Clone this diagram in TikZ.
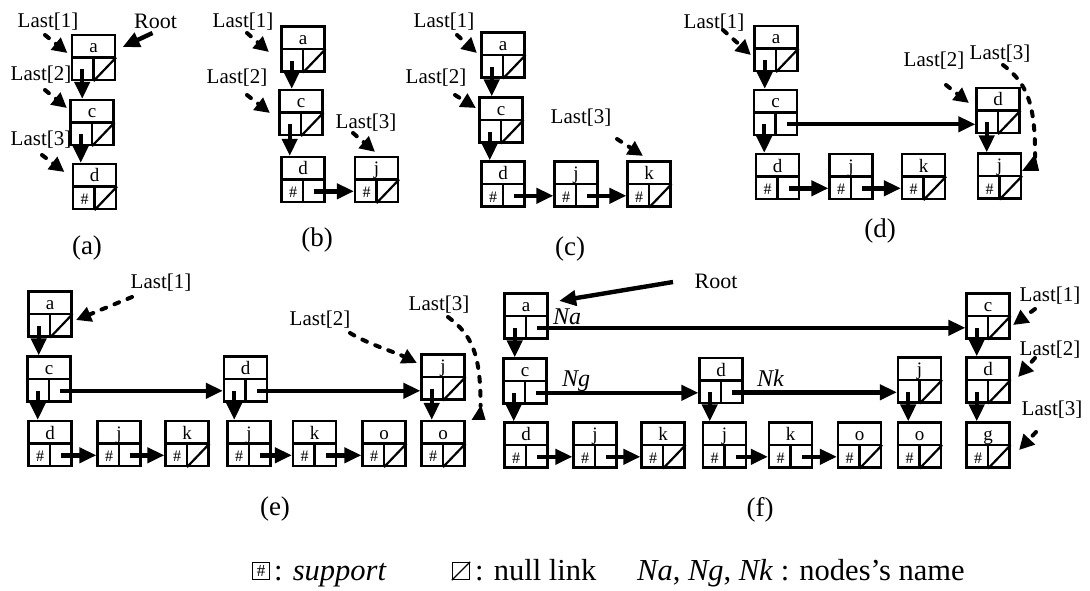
\documentclass[tikz,border=0pt]{standalone}
\usepackage{fontspec}
\setmainfont{Liberation Serif}
\usetikzlibrary{arrows.meta,calc}

\tikzset{
  cellbox/.style={draw, line width=2.2pt, minimum width=43pt, minimum height=45pt, inner sep=0pt},
  cellline/.style={line width=2.2pt},
  lettr/.style={font=\fontsize{19}{19}\selectfont, inner sep=0pt, anchor=base},
  hashmark/.style={font=\fontsize{16}{16}\selectfont, inner sep=0pt},
  link/.style={line width=4.4pt, -{Triangle[length=17pt,width=15pt]}},
  dlink/.style={line width=4pt, line cap=round, dash pattern=on 5pt off 9pt, -{Triangle[length=15pt,width=15pt]}},
  dcurve/.style={line width=4pt, line cap=round, dash pattern=on 5pt off 9pt},
  lastlbl/.style={font=\fontsize{21}{21}\selectfont, inner sep=0pt},
  rootlbl/.style={font=\fontsize{22}{22}\selectfont, inner sep=0pt},
  namelbl/.style={font=\fontsize{24}{24}\selectfont\itshape, inner sep=0pt, anchor=base west},
  caption/.style={font=\fontsize{27}{27}\selectfont, inner sep=0pt},
  legendtxt/.style={font=\fontsize{30.5}{30.5}\selectfont, inner sep=0pt, anchor=base west},
  legendicon/.style={draw, line width=1.3pt, minimum width=17pt, minimum height=17pt, inner sep=0pt},
}

% a list cell: name, x, y, item letter
\newcommand\lcell[4]{%
  \node[cellbox] (#1) at (#2,#3) {};
  \draw[cellline] (#1.west) -- (#1.east) (#1.center) -- (#1.south);
  \node[lettr] (#1-t) at ($(#1.center)+(0,-4.5)$) {#4};
  \coordinate (#1-l) at ($(#1.west)!.5!(#1.south)$);
  \coordinate (#1-r) at ($(#1.south)!.5!(#1.east)$);
}
\newcommand\supmark[1]{\node[hashmark] (#1-s) at ($(#1-l)+(1.5,1)$) {\#};}
\newcommand\nullmark[1]{\draw[cellline] (#1.south) -- (#1.east);}
\newcommand\vlink[2]{\draw[link] (#1-l) -- (#1-l |- #2.north);}
\newcommand\hlink[2]{\draw[link] (#1-r) -- (#1-r -| #2.west);}

\begin{document}
\begin{tikzpicture}[x=1pt,y=-1pt]
\useasboundingbox (0,0) rectangle (1090,591);

% ---------- (a)
\lcell{aa}{93.5}{57.5}{a} \nullmark{aa}
\lcell{ac}{92}{122.5}{c} \nullmark{ac}
\lcell{ad}{94.5}{186.5}{d} \supmark{ad} \nullmark{ad}
\vlink{aa}{ac} \vlink{ac}{ad}
\node[lastlbl] (aL1) at (48,22) {Last[1]};
\node[rootlbl] (aR) at (155.5,21) {Root};
\node[lastlbl] (aL2) at (41,75) {Last[2]};
\node[lastlbl] (aL3) at (41,140) {Last[3]};
\draw[dlink] ($(aL1)+(-3,13)$) -- ($(aa.west)+(-3.5,-4.5)$);
\draw[link] ($(aR)+(-3,12)$) -- ($(aa.east)+(6.5,-10.5)$);
\draw[dlink] ($(aL2)+(4,15)$) -- ($(ac.west)+(-2.5,-14.5)$);
\draw[dlink] ($(aL3)+(1,15)$) -- ($(ad.west)+(-7.5,-14.5)$);
\node[caption] (acap) at (87,248) {(a)};

% ---------- (b)
\lcell{ba}{303}{49}{a} \nullmark{ba}
\lcell{bc}{301}{112.5}{c} \nullmark{bc}
\lcell{bd}{303}{179.5}{d} \supmark{bd}
\lcell{bj}{376.5}{179.5}{j} \supmark{bj} \nullmark{bj}
\vlink{ba}{bc} \vlink{bc}{bd} \hlink{bd}{bj}
\node[lastlbl] (bL1) at (243,22) {Last[1]};
\node[lastlbl] (bL2) at (237,78) {Last[2]};
\node[lastlbl] (bL3) at (366,123) {Last[3]};
\draw[dlink] ($(bL1)+(4,11)$) -- ($(ba.west)+(-11.5,3)$);
\draw[dlink] ($(bL2)+(10,17)$) -- ($(bc.west)+(-8.5,0.5)$);
\draw[dlink] ($(bL3)+(-13,10)$) -- ($(bj.north)+(-1.5,-4)$);
\node[caption] (bcap) at (317,240) {(b)};

% ---------- (c)
\lcell{ca}{503}{55}{a} \nullmark{ca}
\lcell{cc}{501}{120}{c} \nullmark{cc}
\lcell{cd}{503}{184}{d} \supmark{cd}
\lcell{cj}{576}{184}{j} \supmark{cj}
\lcell{ck}{649}{184}{k} \supmark{ck} \nullmark{ck}
\vlink{ca}{cc} \vlink{cc}{cd} \hlink{cd}{cj} \hlink{cj}{ck}
\node[lastlbl] (cL1) at (444,22) {Last[1]};
\node[lastlbl] (cL2) at (436,78) {Last[2]};
\node[lastlbl] (cL3) at (581,118) {Last[3]};
\draw[dlink] ($(cL1)+(13,13)$) -- ($(ca.west)+(-3.5,-2)$);
\draw[dlink] ($(cL2)+(19,17)$) -- ($(cc.west)+(-2.5,-12)$);
\draw[dlink] ($(cL3)+(36,21)$) -- ($(ck.north)+(-6,-4.5)$);
\node[caption] (ccap) at (570,249) {(c)};

% ---------- (d)
\lcell{da}{776}{48.5}{a} \nullmark{da}
\lcell{dc}{775.5}{112.5}{c}
\lcell{dd}{777.5}{176.5}{d} \supmark{dd}
\lcell{dj}{851}{176.5}{j} \supmark{dj}
\lcell{dk}{923.5}{176.5}{k} \supmark{dk} \nullmark{dk}
\lcell{dD}{998}{110.5}{d} \nullmark{dD}
\lcell{dJ}{999.5}{176}{j} \supmark{dJ} \nullmark{dJ}
\vlink{da}{dc} \vlink{dc}{dd} \vlink{dD}{dJ}
\hlink{dc}{dD} \hlink{dd}{dj} \hlink{dj}{dk}
\node[lastlbl] (dL1) at (714,23) {Last[1]};
\node[lastlbl] (dL2) at (934,61) {Last[2]};
\node[lastlbl] (dL3) at (1000,54) {Last[3]};
\draw[dlink] ($(dL1)+(9,7)$) -- ($(da.west)+(-2.5,6.5)$);
\draw[dlink] ($(dL2)+(12,24)$) -- ($(dD.west)+(-6.5,-7.5)$);
\draw[dcurve] ($(dL3)+(3,11)$) .. controls ($(dL3)+(30,31)$) and ($(dJ.east)+(13,-66)$) .. ($(dJ.east)+(13,-19)$);
\fill ($(dJ.east)+(0,-5)$) -- ($(dJ.east)+(17,-5)$) -- ($(dJ.east)+(13,-22)$) -- cycle;
\node[caption] (dcap) at (880,231) {(d)};

% ---------- (e)
\lcell{ea}{50}{314}{a} \nullmark{ea}
\lcell{ec}{49}{379}{c}
\lcell{eD}{245.5}{379}{d}
\lcell{eJ}{443}{377}{j} \nullmark{eJ}
\lcell{ed}{50}{443.5}{d} \supmark{ed}
\lcell{ej}{119}{443.5}{j} \supmark{ej}
\lcell{ek}{187}{443.5}{k} \supmark{ek} \nullmark{ek}
\lcell{ej2}{249}{443.5}{j} \supmark{ej2}
\lcell{ek2}{314.5}{443.5}{k} \supmark{ek2}
\lcell{eo}{384}{443.5}{o} \supmark{eo} \nullmark{eo}
\lcell{eo2}{443}{443.5}{o} \supmark{eo2} \nullmark{eo2}
\vlink{ea}{ec} \vlink{ec}{ed} \vlink{eD}{ej2} \vlink{eJ}{eo2}
\hlink{ec}{eD} \hlink{eD}{eJ} \hlink{ed}{ej} \hlink{ej}{ek} \hlink{ej2}{ek2} \hlink{ek2}{eo}
\node[lastlbl] (eL1) at (161,283) {Last[1]};
\node[lastlbl] (eL2) at (320,320) {Last[2]};
\node[lastlbl] (eL3) at (439,305) {Last[3]};
\draw[dlink] ($(eL1)+(-29,14)$) -- ($(ea.east)+(3.5,6)$);
\draw[dlink] ($(eL2)+(30,13)$) .. controls ($(eL2)+(50,25)$) and ($(eL2)+(75,32)$) .. ($(eJ.west)+(-3.5,-14)$);
\draw[dcurve] ($(eL3)+(9,12)$) .. controls ($(eL3)+(33,30)$) and ($(eo2.north east)+(15,-66)$) .. ($(eo2.north east)+(15,-14)$);
\fill ($(eo2.north east)+(6,0)$) -- ($(eo2.north east)+(20,0)$) -- ($(eo2.north east)+(15.5,-15)$) -- cycle;
\node[caption] (ecap) at (275,509) {(e)};

% ---------- (f)
\lcell{fa}{526}{316}{a}
\lcell{fc}{525}{381}{c}
\lcell{fD}{721}{380.5}{d}
\lcell{fJ}{919.5}{380}{j} \nullmark{fJ}
\lcell{fC}{988}{316}{c} \nullmark{fC}
\lcell{fE}{988}{380}{d} \nullmark{fE}
\lcell{fd}{526}{445}{d} \supmark{fd}
\lcell{fj}{595}{445}{j} \supmark{fj}
\lcell{fk}{663}{445}{k} \supmark{fk} \nullmark{fk}
\lcell{fj2}{724.5}{445}{j} \supmark{fj2}
\lcell{fk2}{790.5}{445}{k} \supmark{fk2}
\lcell{fo}{859.5}{445}{o} \supmark{fo} \nullmark{fo}
\lcell{fo2}{919.5}{445}{o} \supmark{fo2} \nullmark{fo2}
\lcell{fg}{988}{445}{g} \supmark{fg} \nullmark{fg}
\vlink{fa}{fc} \vlink{fc}{fd} \vlink{fD}{fj2} \vlink{fJ}{fo2} \vlink{fC}{fE} \vlink{fE}{fg}
\hlink{fa}{fC} \hlink{fc}{fD} \hlink{fD}{fJ}
\hlink{fd}{fj} \hlink{fj}{fk} \hlink{fj2}{fk2} \hlink{fk2}{fo}
\node[rootlbl] (fR) at (716,281) {Root};
\node[namelbl] (fNa) at (553,324) {Na};
\node[namelbl] (fNg) at (562,386) {Ng};
\node[namelbl] (fNk) at (757,386) {Nk};
\node[lastlbl] (fL1) at (1050,296) {Last[1]};
\node[lastlbl] (fL2) at (1050,350) {Last[2]};
\node[lastlbl] (fL3) at (1052,410) {Last[3]};
\draw[link] ($(fR)+(-43,1)$) -- ($(fa.north east)+(10.5,8.5)$);
\draw[dlink] ($(fL1)+(-15,13)$) -- ($(fC.east)+(2.5,9)$);
\draw[dlink] ($(fL2)+(-15,8)$) -- ($(fE.east)+(7.5,-3)$);
\draw[dlink] ($(fL3)+(-16,22)$) -- ($(fg.east)+(8.5,5)$);
\node[caption] (fcap) at (760,510) {(f)};

% ---------- legend
\node[legendicon, font=\fontsize{17}{17}\selectfont] (lgS) at (261,571) {\#};
\node[legendtxt] (lgSt) at (274,580) {: \textit{support}};
\node[legendicon] (lgN) at (461,571) {};
\draw[line width=1.3pt] (lgN.south west) -- (lgN.north east);
\node[legendtxt] (lgNt) at (475,580) {: null link};
\node[legendtxt] (lgNm) at (637,580) {\textit{Na}, \textit{Ng}, \textit{Nk} : nodes's name};
\end{tikzpicture}
\end{document}
